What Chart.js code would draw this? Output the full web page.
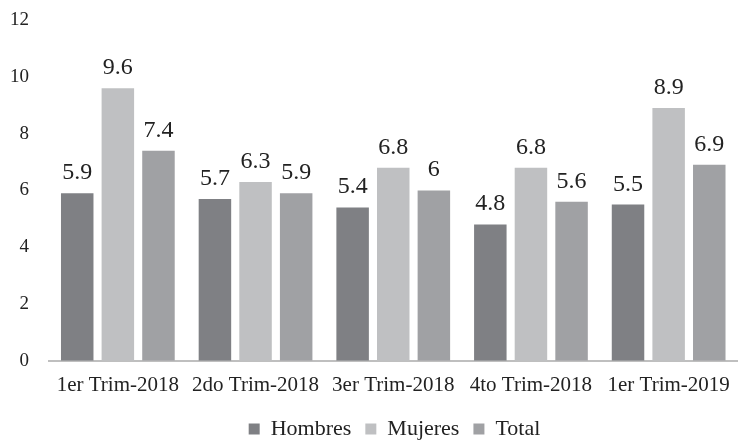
<!DOCTYPE html>
<html>
<head>
<meta charset="utf-8">
<script src="https://cdn.jsdelivr.net/npm/chart.js@4"></script>
<style>
  html, body { margin: 0; padding: 0; background: #fff; }
  #wrap { width: 742px; height: 440px; }
</style>
</head>
<body>
<div id="wrap"><canvas id="chart" width="742" height="440"></canvas></div>
<script>
const categories = ["1er Trim-2018", "2do Trim-2018", "3er Trim-2018", "4to Trim-2018", "1er Trim-2019"];
const hombres = [5.9, 5.7, 5.4, 4.8, 5.5];
const mujeres = [9.6, 6.3, 6.8, 6.8, 8.9];
const total = [7.4, 5.9, 6, 5.6, 6.9];
const yTicks = [0, 2, 4, 6, 8, 10, 12];

const serif = "'Liberation Serif', 'Times New Roman', serif";

// values written above each bar
const valueLabels = {
  id: "valueLabels",
  afterDatasetsDraw(chart) {
    const ctx = chart.ctx;
    ctx.save();
    ctx.font = "24px " + serif;
    ctx.fillStyle = "#222";
    ctx.textAlign = "center";
    ctx.textBaseline = "alphabetic";
    chart.data.datasets.forEach((ds, i) => {
      chart.getDatasetMeta(i).data.forEach((bar, j) => {
        ctx.fillText(String(ds.data[j]), bar.x, bar.y - 14);
      });
    });
    ctx.restore();
  }
};

// center the legend under the plot area instead of the whole canvas
const legendUnderPlot = {
  id: "legendUnderPlot",
  beforeDraw(chart) {
    if (chart.legend) chart.legend.left = chart.chartArea.left;
  }
};

new Chart(document.getElementById("chart").getContext("2d"), {
  type: "bar",
  data: {
    labels: categories,
    datasets: [
      { label: "Hombres", data: hombres, backgroundColor: "#7f8084" },
      { label: "Mujeres", data: mujeres, backgroundColor: "#bfc0c2" },
      { label: "Total", data: total, backgroundColor: "#a0a1a4" }
    ]
  },
  options: {
    responsive: false,
    animation: false,
    layout: { padding: { top: 0, right: 2, left: 0, bottom: -10 } },
    datasets: { bar: { categoryPercentage: 0.885, barPercentage: 0.8 } },
    plugins: {
      legend: {
        position: "bottom",
        labels: {
          font: { family: serif, size: 22 },
          color: "#222",
          boxWidth: 11,
          boxHeight: 11,
          padding: 14
        }
      },
      tooltip: { enabled: false }
    },
    scales: {
      x: {
        grid: { display: false, drawTicks: false },
        border: { color: "#bfbfbf", width: 2 },
        ticks: { font: { family: serif, size: 21 }, color: "#222", padding: 12, maxRotation: 0 },
        afterFit(axis) { axis.height -= 6; }
      },
      y: {
        min: 0,
        max: 12,
        afterBuildTicks(axis) { axis.ticks = yTicks.map(v => ({ value: v })); },
        afterFit(axis) { axis.paddingTop = 20; axis.paddingBottom = 10; axis.width -= 10; },
        grid: { display: false, drawTicks: false },
        border: { display: false },
        ticks: { font: { family: serif, size: 19 }, color: "#222", padding: 20 }
      }
    }
  },
  plugins: [valueLabels, legendUnderPlot]
});
</script>
</body>
</html>
